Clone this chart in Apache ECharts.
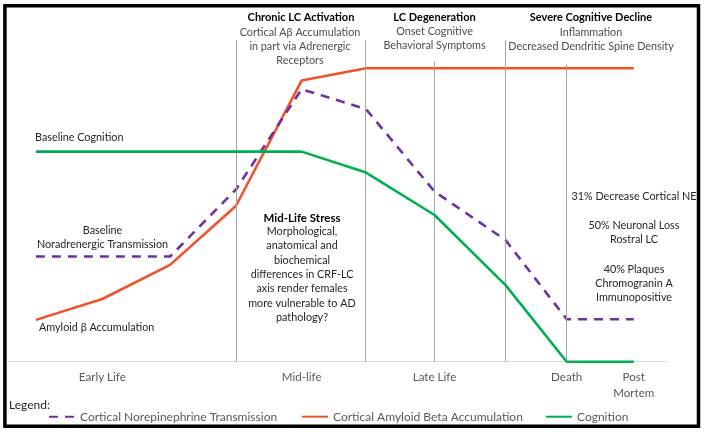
<!DOCTYPE html>
<html><head><meta charset="utf-8">
<script src="https://cdn.jsdelivr.net/npm/echarts@6/dist/echarts.min.js"></script>
<style>html,body{margin:0;padding:0;background:#fff}#c{width:704px;height:432px}</style>
</head><body><div id="c"></div><script>
// ---- data ----
const stageX = [0, 1, 2.02, 3.01, 4.0, 4.97, 6.0, 7.07, 7.99, 9.0];
const norepinephrine = [32.7, 32.7, 32.7, 53.5, 84.7, 78.5, 52.9, 37.8, 13.2, 13.2];
const amyloid = [13.0, 19.5, 30.1, 48.4, 87.4, 91.2, 91.2, 91.2, 91.2, 91.2];
const cognition = [65.3, 65.3, 65.3, 65.3, 65.3, 58.8, 45.6, 23.8, 0, 0];
const tickValues = [1, 4, 6, 7.99, 9];
const tickLabels = ['Early Life', 'Mid-life', 'Late Life', 'Death', 'Post\nMortem'];
const dividerX = [3.01, 4.96, 6.0, 7.07, 7.99];
const dividerTop = [100, 100, 93.2, 100, 92.2];
const seriesNames = ['Cortical Norepinephrine Transmission', 'Cortical Amyloid Beta Accumulation', 'Cognition'];

const FONT = 'Lato, "Open Sans", sans-serif';
const pairs = arr => stageX.map((x, i) => [x, arr[i]]);

function txt(text, x, y, opts) {
  opts = opts || {};
  return {
    type: 'text', x: x, y: y, z: 50, silent: true,
    style: {
      text: text,
      fill: opts.fill || '#262626',
      font: (opts.bold ? 'bold ' : '') + (opts.size || 10.8) + 'px ' + FONT,
      textAlign: opts.align || 'center',
      textVerticalAlign: 'middle',
      lineHeight: opts.lh || 14.4
    }
  };
}

const chart = echarts.init(document.getElementById('c'), null, { renderer: 'canvas' });
chart.setOption({
  animation: false,
  backgroundColor: '#fff',
  grid: { left: 8, right: 37, top: 40, bottom: 70.3, containLabel: false, outerBoundsMode: 'none' },
  xAxis: {
    type: 'value', min: -0.42, max: 9.5,
    axisLine: { show: true, lineStyle: { color: '#d9d9d9', width: 1 } },
    axisTick: { show: false },
    splitLine: { show: false },
    axisLabel: {
      customValues: tickValues,
      margin: 8,
      color: '#595959', fontSize: 11.6, fontFamily: FONT, lineHeight: 16,
      formatter: v => {
        let best = 0;
        tickValues.forEach((t, i) => { if (Math.abs(t - v) < Math.abs(tickValues[best] - v)) best = i; });
        return tickLabels[best];
      }
    }
  },
  yAxis: { type: 'value', min: 0, max: 100, show: false, splitLine: { show: false } },
  legend: seriesNames.map((n, i) => ({
    data: [n], left: [48, 301, 545][i], top: 410.7, padding: 0,
    itemWidth: 26, itemHeight: 14,
    itemStyle: { opacity: 0 },
    textStyle: { color: '#595959', fontSize: 12, fontFamily: FONT }
  })),
  series: [
    {
      name: 'dividers', type: 'line', data: [], silent: true,
      markLine: {
        silent: true, symbol: 'none', label: { show: false },
        lineStyle: { color: '#a6a6a6', width: 1, type: 'solid' },
        data: dividerX.map((x, i) => [{ coord: [x, 0] }, { coord: [x, dividerTop[i]] }])
      }
    },
    {
      name: seriesNames[1], type: 'line', data: pairs(amyloid), symbol: 'none',
      lineStyle: { color: '#f0522a', width: 2.6 }, itemStyle: { color: '#f0522a' }, z: 3
    },
    {
      name: seriesNames[0], type: 'line', data: pairs(norepinephrine), symbol: 'none',
      lineStyle: { color: '#7030a0', width: 2.6, type: [9, 7] }, itemStyle: { color: '#7030a0' }, z: 4
    },
    {
      name: seriesNames[2], type: 'line', data: pairs(cognition), symbol: 'none',
      lineStyle: { color: '#00b050', width: 2.6 }, itemStyle: { color: '#00b050' }, z: 5
    }
  ],
  graphic: [
    { type: 'rect', z: 100, silent: true, shape: { x: 4.9, y: 5.7, width: 693.6, height: 420.5 },
      style: { fill: 'none', stroke: '#000', lineWidth: 3.5 } },
    txt('Chronic LC Activation', 301, 17, { bold: true, fill: '#000', size: 11 }),
    txt('Cortical A\u03b2 Accumulation\nin part via Adrenergic\nReceptors', 300, 47, { fill: '#4d4d4d', lh: 14 }),
    txt('LC Degeneration', 434.5, 17, { bold: true, fill: '#000', size: 11 }),
    txt('Onset Cognitive\nBehavioral Symptoms', 434.5, 39, { fill: '#4d4d4d', lh: 14 }),
    txt('Severe Cognitive Decline', 591, 17, { bold: true, fill: '#000', size: 11 }),
    txt('Inflammation\nDecreased Dendritic Spine Density', 591, 40, { fill: '#4d4d4d', lh: 14 }),
    txt('Baseline Cognition', 35, 138, { align: 'left' }),
    txt('Baseline\nNoradrenergic Transmission', 102.5, 238, { lh: 14 }),
    txt('Amyloid \u03b2 Accumulation', 39, 327.7, { align: 'left' }),
    txt('Mid-Life Stress', 302, 218, { bold: true, fill: '#000', size: 11.5 }),
    txt('Morphological,\nanatomical and\nbiochemical\ndifferences in CRF-LC\naxis render females\nmore vulnerable to AD\npathology?', 302, 274.5, { lh: 14.4 }),
    txt('31% Decrease Cortical NE', 634, 197),
    txt('50% Neuronal Loss\nRostral LC', 634, 233, { lh: 14 }),
    txt('40% Plaques\nChromogranin A\nImmunopositive', 634, 283.5, { lh: 14.4 }),
    txt('Legend:', 9, 405.5, { align: 'left', size: 12 })
  ]
});
</script></body></html>
